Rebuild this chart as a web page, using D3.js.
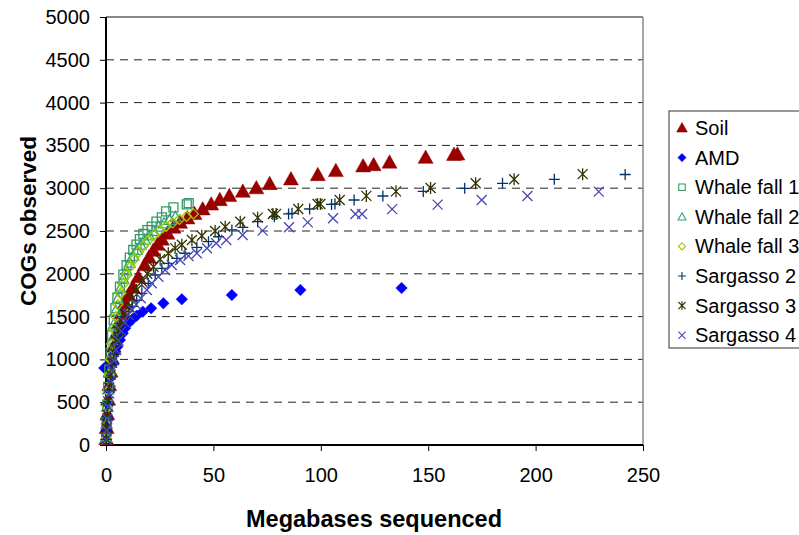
<!DOCTYPE html>
<html>
<head>
<meta charset="utf-8">
<script src="https://cdn.jsdelivr.net/npm/d3@7"></script>
<style>
  body { margin: 0; background: #fff; }
  svg { display: block; font-family: "Liberation Sans", Arial, sans-serif; }
</style>
</head>
<body>
<svg id="chart" width="799" height="535"></svg>
<script>
// [Mb sequenced, COGs observed]
const soil = [[0.1,70],[0.3,200],[0.6,360],[1,530],[1.5,700],[2.1,860],[2.8,1010],[3.6,1150],[4.6,1290],[5.8,1420],[7.2,1540],[8.8,1660],[10.5,1750],[12.5,1840],[15,1960],[18,2100],[20,2190],[22,2270],[24,2340],[26,2400],[28.6,2470],[31.4,2540],[34.5,2597],[37.9,2648],[41.2,2700],[45,2753],[49,2810],[53,2862],[57.4,2909],[63.7,2960],[70,3000],[76.2,3049],[86.1,3104],[98.6,3154],[107,3201],[119.7,3256],[124.6,3270],[132,3300],[148.8,3356],[162,3390],[163.6,3395]];
const amd = [[-0.8,900],[0.1,60],[0.3,160],[0.6,290],[1,480],[1.5,620],[2.2,790],[3.1,960],[4.2,1071],[5.3,1149],[6.5,1227],[7.8,1305],[8.9,1363],[10.4,1422],[12.3,1468],[14.3,1511],[17.1,1558],[21,1597],[26.7,1655],[35.3,1702],[58.6,1752],[90.5,1811],[137.6,1834]];
const whale1 = [[0.1,90],[0.3,260],[0.6,470],[1,680],[1.5,880],[2.1,1080],[2.8,1280],[3.6,1460],[4.4,1600],[5.3,1720],[6.5,1850],[8.1,1990],[9.6,2100],[11.1,2190],[12.7,2278],[14.2,2340],[15.8,2405],[17.4,2465],[19.3,2510],[21.3,2550],[23.5,2610],[26,2660],[28,2730],[31.4,2777],[37.6,2812],[38.5,2825]];
const whale2 = [[0.1,85],[0.3,250],[0.6,450],[1,650],[1.5,850],[2.1,1040],[2.8,1230],[3.6,1410],[4.5,1570],[5.5,1710],[6.7,1830],[8,1940],[9.5,2040],[11,2130],[12.6,2210],[14.3,2280],[16.1,2340],[18,2400],[20,2450],[22.2,2500],[24.5,2550],[27,2590],[29.6,2630],[32.3,2665]];
const whale3 = [[0.1,80],[0.3,240],[0.6,440],[1,630],[1.5,820],[2.1,1000],[2.8,1180],[3.6,1350],[4.5,1500],[5.5,1640],[6.7,1770],[8,1880],[9.5,1980],[11.2,2080],[13,2170],[15,2250],[17.2,2320],[19.6,2390],[22.2,2450],[25,2510],[28,2555],[31,2595],[34.2,2635],[37.5,2670],[40.7,2700]];
const sargasso2 = [[0.1,65],[0.3,185],[0.6,335],[1,480],[1.5,640],[2.1,790],[2.8,930],[3.6,1060],[4.6,1190],[5.8,1310],[7.2,1420],[8.8,1500],[10.5,1560],[12.3,1620],[14.3,1690],[16.7,1772],[19.7,1889],[22.9,1986],[26,2064],[29,2122],[33,2181],[36.8,2240],[42.3,2309],[47.7,2375],[52.4,2433],[58.6,2512],[63.7,2543],[70.6,2609],[78.4,2667],[85,2700],[86.6,2707],[94.8,2757],[105,2810],[106.6,2815],[115.5,2862],[128.9,2909],[147.7,2962],[167,2998],[184.6,3057],[208.7,3104],[241.7,3160]];
const sargasso3 = [[0.1,70],[0.3,195],[0.6,350],[1,510],[1.5,670],[2.1,820],[2.8,960],[3.6,1090],[4.6,1220],[5.8,1340],[7.2,1450],[8.8,1530],[10.5,1610],[12.2,1710],[14.2,1810],[16.7,1910],[19.2,2000],[22.1,2083],[25.2,2169],[29,2240],[32.2,2300],[35.3,2340],[40,2395],[44.6,2445],[50.8,2500],[55.5,2550],[62.5,2609],[70.6,2656],[77.7,2698],[79.2,2700],[89.5,2757],[98.5,2815],[99.8,2815],[108.8,2862],[121.2,2910],[135,2963],[151.1,3002],[172.1,3057],[190,3104],[221.9,3164]];
const sargasso4 = [[0.1,60],[0.3,170],[0.6,310],[1,450],[1.5,600],[2.1,740],[2.8,870],[3.6,990],[4.6,1110],[5.8,1220],[7.2,1330],[8.8,1430],[10.5,1520],[12.2,1580],[14,1640],[16.2,1714],[19,1811],[21.3,1889],[24.4,1966],[27.5,2044],[30.6,2103],[34.5,2161],[38.4,2208],[42.3,2240],[47,2298],[51.3,2356],[56,2395],[63.6,2453],[72.9,2504],[85.2,2543],[93.9,2601],[105.7,2648],[116.1,2698],[119.2,2698],[133.2,2756],[154.4,2808],[174.9,2862],[196.2,2909],[229.4,2960]];

const seriesNames = ["Soil", "AMD", "Whale fall 1", "Whale fall 2", "Whale fall 3", "Sargasso 2", "Sargasso 3", "Sargasso 4"];
const seriesData = [soil, amd, whale1, whale2, whale3, sargasso2, sargasso3, sargasso4];
const xTicks = [0, 50, 100, 150, 200, 250];
const yTicks = [0, 500, 1000, 1500, 2000, 2500, 3000, 3500, 4000, 4500, 5000];

const svg = d3.select("#chart");
const plot = {left: 106, right: 643, top: 17, bottom: 445};

const x = d3.scaleLinear().domain([0, 250]).range([plot.left, plot.right]);
const y = d3.scaleLinear().domain([0, 5000]).range([plot.bottom, plot.top]);

// marker shapes, in the Excel style
const markers = [
    {color: "#990000", fill: true,  path: s => `M0,${-s*0.62}L${s*0.6},${s*0.45}L${-s*0.6},${s*0.45}Z`, size: 12.5},
    {color: "#0000ff", fill: true,  path: s => `M0,${-s/2}L${s/2},0L0,${s/2}L${-s/2},0Z`, size: 11.5},
    {color: "#339966", fill: false, path: s => `M${-s/2},${-s/2}H${s/2}V${s/2}H${-s/2}Z`, size: 9},
    {color: "#33a07a", fill: false, path: s => `M0,${-s*0.55}L${s*0.55},${s*0.45}L${-s*0.55},${s*0.45}Z`, size: 10},
    {color: "#99cc00", fill: false, path: s => `M0,${-s/2}L${s/2},0L0,${s/2}L${-s/2},0Z`, size: 10},
    {color: "#003366", fill: false, path: s => `M${-s/2},0H${s/2}M0,${-s/2}V${s/2}`, size: 11},
    {color: "#333300", fill: false, path: s => `M${-s/2},${-s/2}L${s/2},${s/2}M${s/2},${-s/2}L${-s/2},${s/2}M0,${-s*0.6}V${s*0.6}`, size: 10},
    {color: "#4646b4", fill: false, path: s => `M${-s/2},${-s/2}L${s/2},${s/2}M${s/2},${-s/2}L${-s/2},${s/2}`, size: 10}
];

// gridlines (dashed), top border solid
svg.append("g")
    .selectAll("line")
    .data(yTicks.filter(v => v > 0 && v < 5000))
    .join("line")
    .attr("x1", plot.left).attr("x2", plot.right)
    .attr("y1", d => y(d)).attr("y2", d => y(d))
    .attr("stroke", "#222")
    .attr("stroke-width", 1)
    .attr("stroke-dasharray", "8,6");

svg.append("line")
    .attr("x1", plot.left).attr("x2", plot.right)
    .attr("y1", y(5000)).attr("y2", y(5000))
    .attr("stroke", "#111").attr("stroke-width", 1.2);
svg.append("line")
    .attr("x1", plot.right).attr("x2", plot.right)
    .attr("y1", y(5000)).attr("y2", y(0))
    .attr("stroke", "#888").attr("stroke-width", 1.5);

// axes
const xAxis = svg.append("g")
    .attr("transform", `translate(0,${plot.bottom})`)
    .call(d3.axisBottom(x).tickValues(xTicks).tickSize(6).tickPadding(17).tickFormat(d3.format("d")));
const yAxis = svg.append("g")
    .attr("transform", `translate(${plot.left},0)`)
    .call(d3.axisLeft(y).tickValues(yTicks).tickSize(6).tickPadding(10).tickFormat(d3.format("d")));

[xAxis, yAxis].forEach(a => {
    a.select(".domain").attr("stroke", "#000").attr("stroke-width", 2);
    a.selectAll(".tick line").attr("stroke", "#000").attr("stroke-width", 1);
    a.selectAll(".tick text")
        .attr("font-size", 20)
        .attr("font-family", "'Liberation Sans', Arial, sans-serif")
        .attr("fill", "#000");
});
xAxis.select(".domain").attr("d", `M${plot.left},0H${plot.right}`);
yAxis.select(".domain").attr("d", `M0,${plot.top}V${plot.bottom}`);

// points
seriesData.forEach((data, i) => {
    const m = markers[i];
    svg.append("g")
        .selectAll("path")
        .data(data)
        .join("path")
        .attr("transform", d => `translate(${x(d[0])},${y(d[1])})`)
        .attr("d", m.path(m.size))
        .attr("fill", m.fill ? m.color : "none")
        .attr("stroke", m.color)
        .attr("stroke-width", m.fill ? 0.5 : 1.3);
});

// axis titles
svg.append("text")
    .attr("x", 374).attr("y", 527)
    .attr("text-anchor", "middle")
    .attr("font-size", 23.5).attr("font-weight", "bold")
    .text("Megabases sequenced");

svg.append("text")
    .attr("transform", "translate(36,221) rotate(-90)")
    .attr("text-anchor", "middle")
    .attr("font-size", 22.5).attr("font-weight", "bold")
    .text("COGs observed");

// legend
const legend = svg.append("g").attr("transform", "translate(669,111)");
legend.append("rect")
    .attr("x", 0).attr("y", 0)
    .attr("width", 160).attr("height", 237)
    .attr("fill", "#fff").attr("stroke", "#555").attr("stroke-width", 1.2);

seriesNames.forEach((name, i) => {
    const m = markers[i];
    const row = legend.append("g").attr("transform", `translate(0,${17 + i * 29.6})`);
    row.append("path")
        .attr("transform", "translate(13,0)")
        .attr("d", m.path(m.size * 0.72))
        .attr("fill", m.fill ? m.color : "none")
        .attr("stroke", m.color)
        .attr("stroke-width", m.fill ? 0.5 : 1.1);
    row.append("text")
        .attr("x", 26).attr("y", 7)
        .attr("font-size", 20)
        .text(name);
});
</script>
</body>
</html>
